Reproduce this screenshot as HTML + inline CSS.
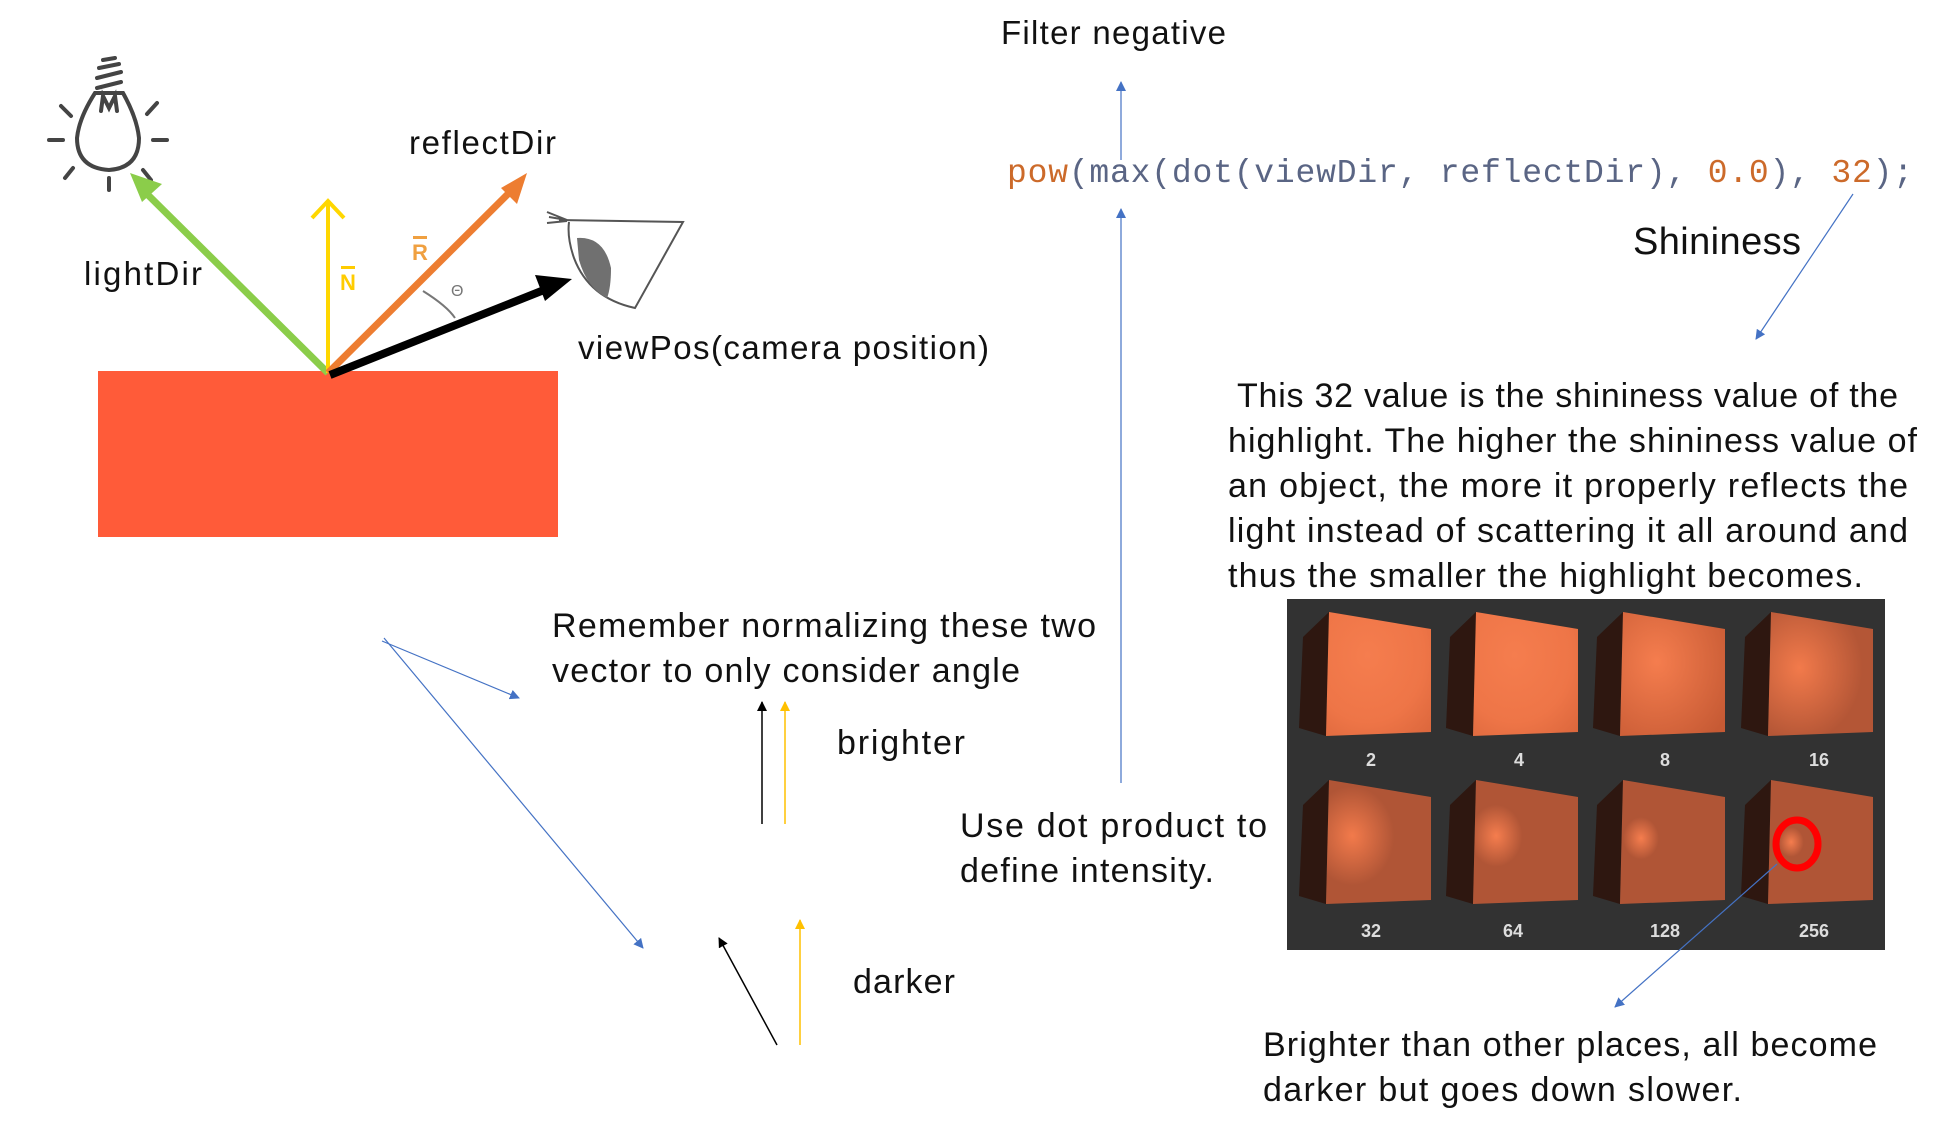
<!DOCTYPE html>
<html><head><meta charset="utf-8"><style>
html,body{margin:0;padding:0;background:#fff;}
svg{display:block;}
text{font-family:"Liberation Sans",sans-serif;fill:#111;}
.m{font-family:"Liberation Mono",monospace;}
</style></head><body>
<svg width="1952" height="1131" viewBox="0 0 1952 1131" xmlns="http://www.w3.org/2000/svg">
<defs>
<marker id="bl" markerWidth="10" markerHeight="10" refX="9" refY="5" orient="auto" markerUnits="userSpaceOnUse"><path d="M0,0 L10,5 L0,10 z" fill="#4472C4"/></marker>
<marker id="bk" markerWidth="10" markerHeight="10" refX="9" refY="5" orient="auto" markerUnits="userSpaceOnUse"><path d="M0,0 L10,5 L0,10 z" fill="#000"/></marker>
<marker id="yl" markerWidth="10" markerHeight="10" refX="9" refY="5" orient="auto" markerUnits="userSpaceOnUse"><path d="M0,0 L10,5 L0,10 z" fill="#FFC000"/></marker>
<radialGradient id="g2" cx="0.4" cy="0.35" r="0.9"><stop offset="0" stop-color="#F57D4E"/><stop offset="0.6" stop-color="#EE7547"/><stop offset="1" stop-color="#D9653B"/></radialGradient>
<radialGradient id="g8" cx="0.35" cy="0.4" r="0.8"><stop offset="0" stop-color="#F57D4E"/><stop offset="1" stop-color="#C65A34"/></radialGradient>
<radialGradient id="g16" cx="0.3" cy="0.45" r="0.6"><stop offset="0" stop-color="#F27A4B"/><stop offset="1" stop-color="#B45636"/></radialGradient>
<radialGradient id="g32" cx="0.25" cy="0.45" r="0.4"><stop offset="0" stop-color="#F27A4B"/><stop offset="1" stop-color="#B05536"/></radialGradient>
<radialGradient id="g64" cx="0.22" cy="0.45" r="0.25"><stop offset="0" stop-color="#F57D4E"/><stop offset="1" stop-color="#B05536"/></radialGradient>
<radialGradient id="g128" cx="0.2" cy="0.47" r="0.17"><stop offset="0" stop-color="#F57D4E"/><stop offset="1" stop-color="#B05536"/></radialGradient>
<radialGradient id="g256" cx="0.22" cy="0.5" r="0.12"><stop offset="0" stop-color="#F57D4E"/><stop offset="1" stop-color="#B05536"/></radialGradient>
<g id="side"><polygon points="-26,25 0,0 -3,124 -30,116" fill="#2E1710"/></g>
</defs>
<g transform="translate(-1,-2)">
<rect x="99" y="373" width="460" height="166" fill="#FF5B39"/>
<g stroke="#444" stroke-width="4" fill="none" stroke-linecap="round">
<path d="M96,95 Q80,120 78,140 Q78,170 110,172 Q140,170 140,140 Q138,120 124,95 Z"/>
<path d="M102,113 L104,98 L110,110 L116,98 L118,113"/>
<path d="M98,90 L122,84 M98,80 L122,74 M100,70 L120,66 M104,62 L116,60"/>
<line x1="50" y1="142" x2="64" y2="142"/><line x1="154" y1="142" x2="168" y2="142"/>
<line x1="62" y1="108" x2="72" y2="118"/><line x1="158" y1="105" x2="148" y2="116"/>
<line x1="66" y1="180" x2="74" y2="170"/><line x1="152" y1="182" x2="144" y2="172"/>
<line x1="110" y1="180" x2="110" y2="192"/>
</g>
<g stroke="#555" stroke-width="2" fill="none">
<path d="M560,222 L684,224 L636,310 Q590,300 575,260 Q568,240 570,224"/>
<path d="M548,214 L568,222 M548,225 L568,223 M550,219 L568,222"/>
</g>
<path d="M578,240 Q605,238 612,270 Q612,290 608,300 Q588,290 580,262 Z" fill="#707070"/>
<line x1="329" y1="375" x2="145" y2="193" stroke="#8BCD4A" stroke-width="7"/>
<polygon points="131,175 163,186 143,204" fill="#8BCD4A"/>
<line x1="329" y1="375" x2="329" y2="205" stroke="#FFD700" stroke-width="4"/>
<polyline points="313,220 329,203 345,220" stroke="#FFD700" stroke-width="4" fill="none"/>
<line x1="329" y1="375" x2="515" y2="190" stroke="#ED7D31" stroke-width="7"/>
<polygon points="528,175 518,206 502,190" fill="#ED7D31"/>
<line x1="331" y1="377" x2="555" y2="288" stroke="#000" stroke-width="8"/>
<polygon points="573,281 546,303 536,277" fill="#000"/>
<path d="M424,293 Q448,308 456,320" stroke="#777" stroke-width="2" fill="none"/>
<text x="452" y="298" font-size="16" style="fill:#777">Θ</text>
<text x="341" y="292" font-size="22" font-weight="bold" style="fill:#FFCC00">N</text>
<rect x="342" y="268" width="14" height="3" fill="#FFCC00"/>
<text x="413" y="262" font-size="22" font-weight="bold" style="fill:#F0A040">R</text>
<rect x="414" y="238" width="14" height="3" fill="#F0A040"/>
<text x="85" y="287" font-size="33" textLength="118">lightDir</text>
<text x="410" y="156" font-size="33" textLength="147">reflectDir</text>
<text x="579" y="361" font-size="33" textLength="411">viewPos(camera position)</text>

<text x="1002" y="46" font-size="33" textLength="225">Filter negative</text>
<line x1="1122" y1="162" x2="1122" y2="84" stroke="#4472C4" stroke-width="1.2" marker-end="url(#bl)"/>
<line x1="1122" y1="785" x2="1122" y2="211" stroke="#4472C4" stroke-width="1.2" marker-end="url(#bl)"/>
<text class="m" x="1008" y="184" font-size="33" textLength="906"><tspan style="fill:#CC6A2A">pow</tspan><tspan style="fill:#5A6584">(max(dot(viewDir, reflectDir), </tspan><tspan style="fill:#CC6A2A">0.0</tspan><tspan style="fill:#5A6584">), </tspan><tspan style="fill:#CC6A2A">32</tspan><tspan style="fill:#5A6584">);</tspan></text>
<text x="1634" y="256" font-size="38" textLength="168">Shininess</text>
<line x1="1854" y1="196" x2="1757" y2="341" stroke="#4472C4" stroke-width="1.2" marker-end="url(#bl)"/>

<text font-size="34">
<tspan x="1238" y="409" textLength="661">This 32 value is the shininess value of the</tspan>
<tspan x="1229" y="454" textLength="689">highlight. The higher the shininess value of</tspan>
<tspan x="1229" y="499" textLength="680">an object, the more it properly reflects the</tspan>
<tspan x="1229" y="544" textLength="680">light instead of scattering it all around and</tspan>
<tspan x="1229" y="589" textLength="635">thus the smaller the highlight becomes.</tspan>
</text>
<text font-size="34">
<tspan x="553" y="639" textLength="544">Remember normalizing these two</tspan>
<tspan x="553" y="684" textLength="468">vector to only consider angle</tspan>
</text>
<text x="838" y="756" font-size="34" textLength="128">brighter</text>
<text x="854" y="995" font-size="34" textLength="102">darker</text>
<text font-size="34">
<tspan x="961" y="839" textLength="307">Use dot product to</tspan>
<tspan x="961" y="884" textLength="254">define intensity.</tspan>
</text>
<text font-size="34">
<tspan x="1264" y="1058" textLength="614">Brighter than other places, all become</tspan>
<tspan x="1264" y="1103" textLength="479">darker but goes down slower.</tspan>
</text>

<line x1="763" y1="826" x2="763" y2="704" stroke="#000" stroke-width="1.5" marker-end="url(#bk)"/>
<line x1="786" y1="826" x2="786" y2="704" stroke="#FFC000" stroke-width="1.5" marker-end="url(#yl)"/>
<line x1="778" y1="1047" x2="720" y2="940" stroke="#000" stroke-width="1.5" marker-end="url(#bk)"/>
<line x1="801" y1="1047" x2="801" y2="922" stroke="#FFC000" stroke-width="1.5" marker-end="url(#yl)"/>
<line x1="383" y1="643" x2="520" y2="700" stroke="#4472C4" stroke-width="1.2" marker-end="url(#bl)"/>
<line x1="385" y1="640" x2="644" y2="950" stroke="#4472C4" stroke-width="1.2" marker-end="url(#bl)"/>

<rect x="1288" y="601" width="598" height="351" fill="#323232"/>
<g transform="translate(1330,614)"><use href="#side"/><polygon points="0,0 102,17 102,120 -3,124" fill="url(#g2)"/></g>
<g transform="translate(1477,614)"><use href="#side"/><polygon points="0,0 102,17 102,120 -3,124" fill="url(#g2)"/></g>
<g transform="translate(1624,614)"><use href="#side"/><polygon points="0,0 102,17 102,120 -3,124" fill="url(#g8)"/></g>
<g transform="translate(1772,614)"><use href="#side"/><polygon points="0,0 102,17 102,120 -3,124" fill="url(#g16)"/></g>
<g transform="translate(1330,782)"><use href="#side"/><polygon points="0,0 102,17 102,120 -3,124" fill="url(#g32)"/></g>
<g transform="translate(1477,782)"><use href="#side"/><polygon points="0,0 102,17 102,120 -3,124" fill="url(#g64)"/></g>
<g transform="translate(1624,782)"><use href="#side"/><polygon points="0,0 102,17 102,120 -3,124" fill="url(#g128)"/></g>
<g transform="translate(1772,782)"><use href="#side"/><polygon points="0,0 102,17 102,120 -3,124" fill="url(#g256)"/></g>
<g font-size="18" font-weight="bold" text-anchor="middle">
<text x="1372" y="768" style="fill:#ddd">2</text><text x="1520" y="768" style="fill:#ddd">4</text>
<text x="1666" y="768" style="fill:#ddd">8</text><text x="1820" y="768" style="fill:#ddd">16</text>
<text x="1372" y="939" style="fill:#ddd">32</text><text x="1514" y="939" style="fill:#ddd">64</text>
<text x="1666" y="939" style="fill:#ddd">128</text><text x="1815" y="939" style="fill:#ddd">256</text>
</g>
<ellipse cx="1798" cy="846" rx="21" ry="24" fill="none" stroke="#FF0000" stroke-width="7"/>
<line x1="1778" y1="866" x2="1616" y2="1009" stroke="#4472C4" stroke-width="1.2" marker-end="url(#bl)"/>
</g>
</svg>
</body></html>
